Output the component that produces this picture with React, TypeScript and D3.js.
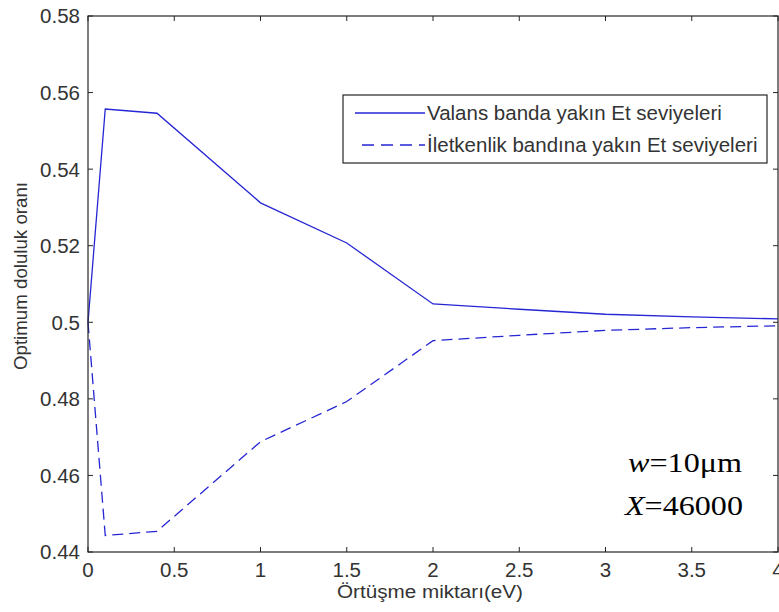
import React from "react";
import * as d3 from "d3";

const overlap = [0, 0.1, 0.4, 1, 1.5, 2, 2.5, 3, 3.5, 4];
const valence = [0.5, 0.5557, 0.5546, 0.5312, 0.5207, 0.5048, 0.5034, 0.5021, 0.5014, 0.5009];
const conduction = [0.5, 0.4443, 0.4454, 0.4688, 0.4793, 0.4952, 0.4966, 0.4979, 0.4986, 0.4991];

const xTicks = [0, 0.5, 1, 1.5, 2, 2.5, 3, 3.5, 4];
const yTicks = [0.44, 0.46, 0.48, 0.5, 0.52, 0.54, 0.56, 0.58];

const seriesNames = ["Valans banda yakın Et seviyeleri", "İletkenlik bandına yakın Et seviyeleri"];

const W = 779;
const H = 612;
const left = 88;
const right = 778;
const top = 16;
const bottom = 552;

const axisColor = "#262626";
const lineColor = "#2626d4";
const font = "'Liberation Sans', Arial, sans-serif";
const serif = "'Liberation Serif', 'Times New Roman', serif";

export default function App() {
  const x = d3.scaleLinear().domain([0, 4]).range([left, right]);
  const y = d3.scaleLinear().domain([0.44, 0.58]).range([bottom, top]);

  const line = d3
    .line<[number, number]>()
    .x((d) => x(d[0]))
    .y((d) => y(d[1]));

  const valPts = overlap.map((v, i) => [v, valence[i]] as [number, number]);
  const conPts = overlap.map((v, i) => [v, conduction[i]] as [number, number]);

  const tickLen = 5;
  const fs = 20.5;

  return (
    <div style={{ position: "fixed", left: 0, top: 0 }}>
      <svg width={W} height={H} style={{ display: "block", background: "#fff" }}>
        <rect x={0} y={0} width={W} height={H} fill="#fff" />
        {/* series */}
        <path d={line(valPts) ?? ""} fill="none" stroke={lineColor} strokeWidth={1.3} />
        <path
          d={line(conPts) ?? ""}
          fill="none"
          stroke={lineColor}
          strokeWidth={1.3}
          strokeDasharray="11,6"
        />

        {/* frame */}
        <rect
          x={left}
          y={top}
          width={right - left}
          height={bottom - top}
          fill="none"
          stroke={axisColor}
          strokeWidth={1.2}
        />

        {/* x ticks */}
        {xTicks.map((t) => (
          <g key={"x" + t}>
            <line x1={x(t)} x2={x(t)} y1={bottom} y2={bottom - tickLen} stroke={axisColor} />
            <line x1={x(t)} x2={x(t)} y1={top} y2={top + tickLen} stroke={axisColor} />
            <text
              x={x(t)}
              y={bottom + 25}
              textAnchor="middle"
              fontFamily={font}
              fontSize={fs}
              fill="#333"
            >
              {String(t)}
            </text>
          </g>
        ))}

        {/* y ticks */}
        {yTicks.map((t) => (
          <g key={"y" + t}>
            <line x1={left} x2={left + tickLen} y1={y(t)} y2={y(t)} stroke={axisColor} />
            <line x1={right} x2={right - tickLen} y1={y(t)} y2={y(t)} stroke={axisColor} />
            <text
              x={left - 8}
              y={y(t)}
              dy="0.36em"
              textAnchor="end"
              fontFamily={font}
              fontSize={fs}
              fill="#333"
            >
              {String(Number(t.toFixed(2)))}
            </text>
          </g>
        ))}

        {/* axis titles */}
        <text
          x={337}
          y={598}
          fontFamily={font}
          fontSize={17.5}
          fill="#333"
          textLength={186}
          lengthAdjust="spacingAndGlyphs"
        >
          Örtüşme miktarı(eV)
        </text>
        <text
          transform="translate(27, 370) rotate(-90)"
          fontFamily={font}
          fontSize={18.5}
          fill="#333"
          textLength={188}
          lengthAdjust="spacingAndGlyphs"
        >
          Optimum doluluk oranı
        </text>

        {/* legend */}
        <g>
          <rect x={343} y={95} width={424} height={68} fill="#fff" stroke={axisColor} strokeWidth={1.2} />
          <line x1={355} x2={425} y1={113} y2={113} stroke={lineColor} strokeWidth={1.3} />
          <line
            x1={362}
            x2={425}
            y1={145}
            y2={145}
            stroke={lineColor}
            strokeWidth={1.3}
            strokeDasharray="12,7"
          />
          <text x={427} y={113} dy="0.36em" fontFamily={font} fontSize={fs} fill="#333">
            {seriesNames[0]}
          </text>
          <text x={427} y={145} dy="0.36em" fontFamily={font} fontSize={fs} fill="#333">
            {seriesNames[1]}
          </text>
        </g>

        {/* parameters */}
        <text x={628} y={472} fontFamily={serif} fontSize={27} fill="#000" textLength={114} lengthAdjust="spacingAndGlyphs">
          <tspan fontStyle="italic">w</tspan>=10μm
        </text>
        <text x={625} y={515} fontFamily={serif} fontSize={27} fill="#000" textLength={118} lengthAdjust="spacingAndGlyphs">
          <tspan fontStyle="italic">X</tspan>=46000
        </text>
      </svg>
    </div>
  );
}
